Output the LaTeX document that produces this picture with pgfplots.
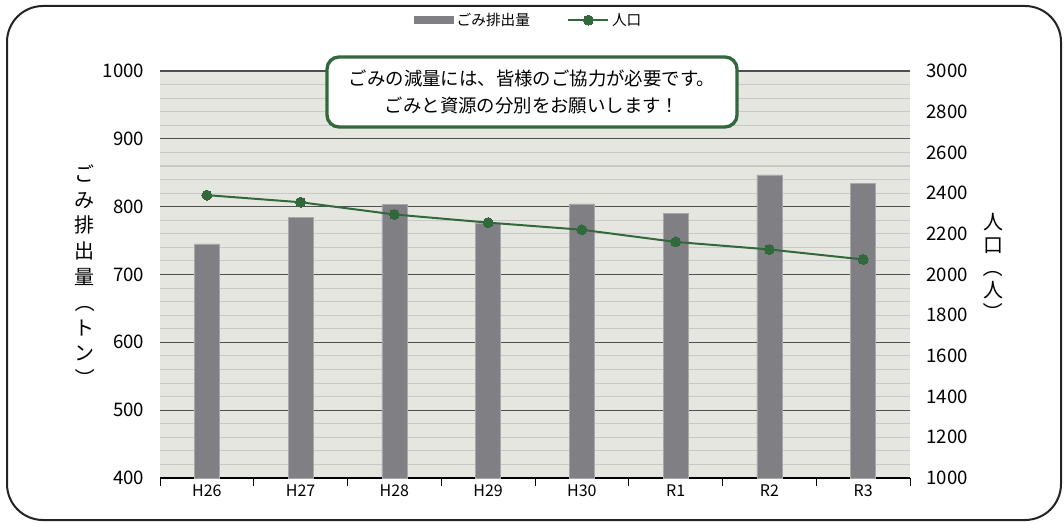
\documentclass[border=0pt]{standalone}
\usepackage{graphicx}
\usepackage{pgfplots}
\pgfplotsset{compat=1.18}
\usepackage{fontspec}
\setmainfont{Noto Sans CJK JP}
\newcommand{\vl}{\rotatebox[origin=c]{-90}{（}}
\newcommand{\vr}{\rotatebox[origin=c]{-90}{）}}
\definecolor{bgc}{RGB}{229,230,224}
\definecolor{minorg}{RGB}{200,200,198}
\definecolor{majorg}{RGB}{80,80,80}
\definecolor{barg}{RGB}{128,128,132}
\definecolor{barE}{RGB}{168,168,170}
\definecolor{lineg}{RGB}{50,105,60}
\definecolor{framec}{RGB}{35,35,35}
\begin{document}
\begin{tikzpicture}
\path[use as bounding box] (0,0) rectangle (798pt,391.5pt);
\fill[white] (0,0) rectangle (798pt,391.5pt);
\draw[framec, line width=1.5pt, rounded corners=27pt] (5.25pt,1.5pt) rectangle (795.75pt,387pt);
\begin{axis}[
  at={(120pt,33pt)}, anchor=south west,
  scale only axis, width=562.5pt, height=305.25pt,
  xmin=-0.5, xmax=7.5, ymin=400, ymax=1000,
  axis x line*=bottom, axis y line*=left,
  y axis line style={draw=none},
  x axis line style={black, line width=0.8pt},
  xtick={0,...,7}, xticklabels={H26,H27,H28,H29,H30,R1,R2,R3},
  major x tick style={draw=none},
  minor xtick={-0.5,0.5,...,7.5},
  minor x tick style={black, line width=0.6pt},
  tick align=outside, minor tick length=6pt,
  ytick={400,500,...,1000}, minor y tick num=4,
  ymajorgrids, yminorgrids,
  major grid style={majorg, line width=0.8pt},
  minor grid style={minorg, line width=0.8pt},
  major y tick style={draw=none}, minor y tick style={draw=none},
  axis background/.style={fill=bgc},
  scaled y ticks=false,
  /pgf/number format/assume math mode=true,
  /pgf/number format/1000 sep={},
  yticklabel style={font=\fontsize{14}{16}\selectfont, xshift=-4pt},
  xticklabel style={font=\fontsize{12}{14}\selectfont, yshift=2.5pt},
  ylabel={ご\\み\\排\\出\\量\\\vl\\ト\\ン\\\vr},
  every axis y label/.style={at={(axis description cs:-0.1,0.494)}, anchor=center, align=center, font=\fontsize{15}{19.2}\selectfont},
]
\addplot[ybar, bar width=18.75pt, fill=barg, draw=barE, line width=0.4pt]
  coordinates {(0,745)(1,784)(2,803)(3,775)(4,804)(5,790)(6,847)(7,834)};
\end{axis}
\begin{axis}[
  at={(120pt,33pt)}, anchor=south west,
  scale only axis, width=562.5pt, height=305.25pt,
  xmin=-0.5, xmax=7.5, ymin=1000, ymax=3000,
  axis x line=none, axis y line*=right,
  y axis line style={draw=none}, ytick style={draw=none},
  tick align=outside,
  ytick={1000,1200,...,3000},
  scaled y ticks=false,
  /pgf/number format/assume math mode=true,
  /pgf/number format/1000 sep={},
  yticklabel style={font=\fontsize{14}{16}\selectfont, xshift=4.5pt},
  ylabel={人\\口\\\vl\\人\\\vr},
  every axis y label/.style={at={(axis description cs:1.1107,0.516)}, anchor=center, align=center, font=\fontsize{15}{17}\selectfont},
  legend style={at={(axis description cs:0.492,1.125)}, anchor=center, draw=none, fill=none,
    font=\fontsize{11}{13}\selectfont, /tikz/every even column/.append style={column sep=26pt}},
  legend columns=2, legend cell align=left,
]
\addlegendimage{fill=barg, draw=none, legend image code/.code={\fill[barg] (0pt,-3pt) rectangle (30pt,3pt);}}
\addlegendentry{ごみ排出量}
\addplot[lineg, line width=1.5pt, mark=*, mark size=3.75pt, mark options={fill=lineg, draw=lineg, line width=0pt},
  legend image code/.code={\draw[mark repeat=2,mark phase=2] plot coordinates {(0pt,0pt)(15pt,0pt)(30pt,0pt)};}]
  coordinates {(0,2390)(1,2355)(2,2295)(3,2255)(4,2220)(5,2160)(6,2123)(7,2074)};
\addlegendentry{人口}
\end{axis}
\node[draw=lineg, line width=2.5pt, fill=white, rounded corners=9pt, minimum width=307.5pt, minimum height=52.5pt, align=center, font=\fontsize{13.8}{20.25}\selectfont] at (399pt,322.5pt) {ごみの減量には、皆様のご協力が必要です。\\ごみと資源の分別をお願いします！};
\end{tikzpicture}
\end{document}
